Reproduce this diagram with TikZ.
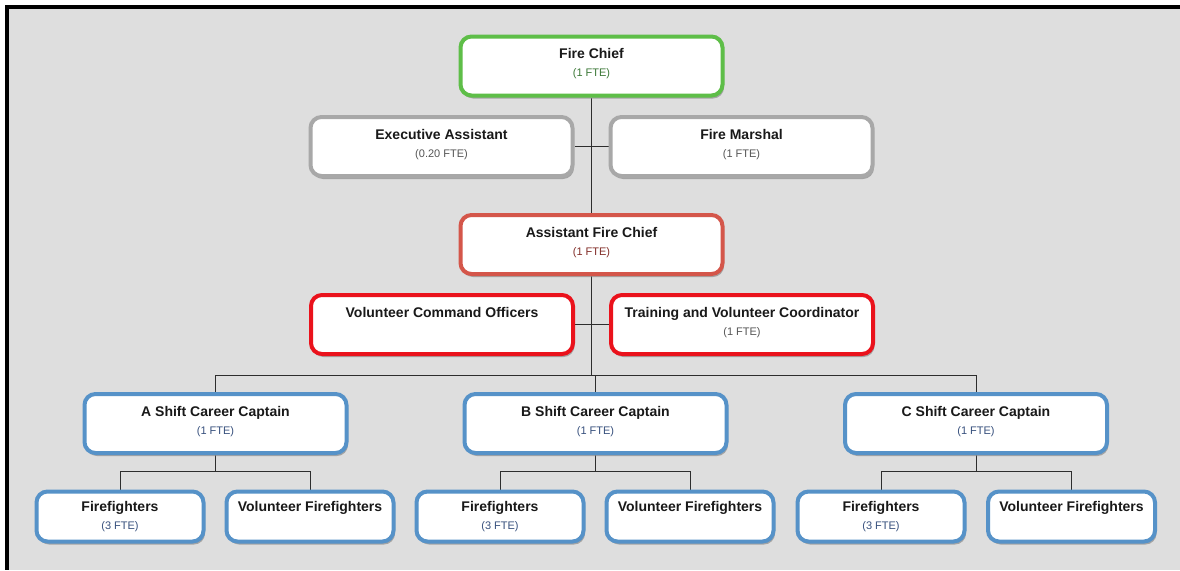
\documentclass[tikz,border=0pt]{standalone}
\usepackage{fontspec}
\setmainfont{Liberation Sans}
\usetikzlibrary{shadows,backgrounds}
\definecolor{canvasgray}{RGB}{222,222,222}
\definecolor{titletext}{RGB}{25,25,25}
\definecolor{linkgray}{RGB}{45,45,45}
\definecolor{chiefgreen}{RGB}{94,190,72}
\definecolor{chieftext}{RGB}{60,120,55}
\definecolor{staffgray}{RGB}{168,168,168}
\definecolor{stafftext}{RGB}{85,85,85}
\definecolor{afcred}{RGB}{212,86,74}
\definecolor{afctext}{RGB}{130,45,40}
\definecolor{volred}{RGB}{234,18,28}
\definecolor{shiftblue}{RGB}{86,146,200}
\definecolor{shifttext}{RGB}{55,80,125}
\tikzset{
  orgbox/.style={rectangle, rounded corners=11pt, fill=white, line width=4pt,
                 minimum width=262pt, minimum height=59pt, inner ysep=0pt, inner xsep=2pt,
                 text height=40pt, text depth=19pt, align=center, text=titletext,
                 font=\fontsize{14}{18}\selectfont\bfseries,
                 drop shadow={shadow xshift=1.5pt, shadow yshift=-3pt,
                              fill=black!45, opacity=0.7}},
  chiefbox/.style={orgbox, draw=chiefgreen},
  staffbox/.style={orgbox, draw=staffgray},
  afcbox/.style  ={orgbox, draw=afcred},
  volbox/.style  ={orgbox, draw=volred},
  shiftbox/.style={orgbox, draw=shiftblue},
  ffbox/.style   ={orgbox, draw=shiftblue, minimum width=167pt, minimum height=50pt,
                   text height=38pt, text depth=12pt},
  link/.style={line width=1pt, linkgray},
}
\newcommand{\ftetext}[2]{{\fontsize{11}{18}\selectfont\mdseries\color{#1}#2}}

\begin{document}
\begin{tikzpicture}[x=1pt, y=-1pt]
  \useasboundingbox (0,0) rectangle (1180,570);
  \node[chiefbox] (chief)    at (591.5,66)    {Fire Chief\\\ftetext{chieftext}{(1 FTE)}};
  \node[staffbox] (exec)     at (441.5,146.5) {Executive Assistant\\\ftetext{stafftext}{(0.20 FTE)}};
  \node[staffbox] (marshal)  at (741.5,146.5) {Fire Marshal\\\ftetext{stafftext}{(1 FTE)}};
  \node[afcbox]   (afc)      at (591.5,244.5) {Assistant Fire Chief\\\ftetext{afctext}{(1 FTE)}};
  \node[volbox]   (vco)      at (442,324.5)   {Volunteer Command Officers\\\mbox{}};
  \node[volbox]   (tvc)      at (742,324.5)   {Training and Volunteer Coordinator\\\ftetext{stafftext}{(1 FTE)}};
  \foreach \s/\x/\f/\v in {A/215.5/120/310,B/595.5/500/690,C/976/881/1071.5} {
    \node[shiftbox] (cap\s) at (\x,423.5) {\s{} Shift Career Captain\\\ftetext{shifttext}{(1 FTE)}};
    \node[ffbox]    (ff\s)  at (\f,516.5) {Firefighters\\\ftetext{shifttext}{(3 FTE)}};
    \node[ffbox]    (vff\s) at (\v,516.5) {Volunteer Firefighters\\\mbox{}};
  }
  \begin{scope}[on background layer]
    \fill[white] (0,0) rectangle (1180,570);
    \fill[canvasgray] (9,9) rectangle (1180,570);
    \fill[black] (5,5) rectangle (1180,9);
    \fill[black] (5,5) rectangle (9,570);
    \coordinate (bus) at (0,375);
    \coordinate (sub) at (0,471);
    \draw[link] (chief) -- (afc);
    \draw[link] (exec.east) -- (marshal.west);
    \draw[link] (vco.east) -- (tvc.west);
    \draw[link] (afc.south) -- (afc.south |- bus);
    \draw[link] (capA.north |- bus) -- (capC.north |- bus);
    \foreach \s in {A,B,C} {
      \draw[link] (cap\s.north) -- (cap\s.north |- bus);
      \draw[link] (cap\s.south) -- (cap\s.south |- sub);
      \draw[link] (ff\s.north |- sub) -- (vff\s.north |- sub);
      \draw[link] (ff\s.north) -- (ff\s.north |- sub);
      \draw[link] (vff\s.north) -- (vff\s.north |- sub);
    }
  \end{scope}
\end{tikzpicture}
\end{document}
